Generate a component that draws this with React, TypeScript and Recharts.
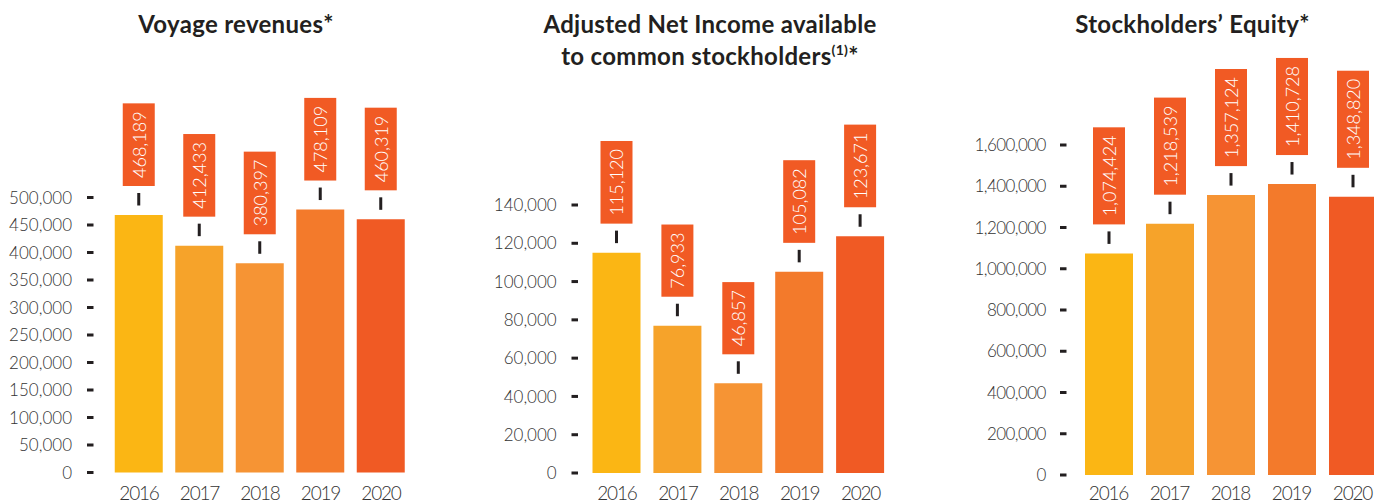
import React from 'react';
import { BarChart, Bar, XAxis, YAxis, Cell, LabelList } from 'recharts';

const years = ['2016', '2017', '2018', '2019', '2020'];
const voyageRevenues = [468189, 412433, 380397, 478109, 460319];
const adjustedNetIncome = [115120, 76933, 46857, 105082, 123671];
const stockholdersEquity = [1074424, 1218539, 1357124, 1410728, 1348820];

const voyageTicks = [0, 50000, 100000, 150000, 200000, 250000, 300000, 350000, 400000, 450000, 500000];
const incomeTicks = [0, 20000, 40000, 60000, 80000, 100000, 120000, 140000];
const equityTicks = [0, 200000, 400000, 600000, 800000, 1000000, 1200000, 1400000, 1600000];

const barColors = ['#FBB614', '#F6A32A', '#F69434', '#F37A2B', '#F05A24'];
const labelBoxColor = '#F15A24';
const inkColor = '#231F20';
const FONT = 'Lato, "Open Sans", sans-serif';

const fmt = (v: number) => String(Math.round(v)).replace(/\B(?=(\d{3})+(?!\d))/g, ',');

type Cfg = {
  left: number;
  width: number;
  margin: { top: number; right: number; bottom: number; left: number };
  yAxisWidth: number;
  xAxisHeight: number;
  labelRight: number;
  dashX: number;
  tickSpacing: number;
};

const makeData = (values: number[]) => years.map((year, i) => ({ year, value: values[i] }));

const BarLabel = (props: any) => {
  const { x, y, width, value } = props;
  const cx = Number(x) + Number(width) / 2;
  const top = Number(y);
  const s = fmt(Number(value));
  const digits = s.replace(/,/g, '').length;
  const commas = s.length - digits;
  const boxH = digits * 10.44 + commas * 4 + 16;
  const boxBottom = top - 29;
  const boxTop = boxBottom - boxH;
  const boxCy = boxTop + boxH / 2;
  return (
    <g>
      <rect x={cx - 1.5} y={top - 22} width={3} height={12.5} fill={inkColor} />
      <rect x={cx - 16} y={boxTop} width={32} height={boxH} fill={labelBoxColor} />
      <text
        x={cx}
        y={boxCy}
        transform={`rotate(-90 ${cx} ${boxCy})`}
        textAnchor="middle"
        dominantBaseline="central"
        fill="#ffffff"
        fontFamily={FONT}
        fontWeight={300}
        fontSize={18}
      >
        {s}
      </text>
    </g>
  );
};

const MiniChart = ({ cfg, values, ticks }: { cfg: Cfg; values: number[]; ticks: number[] }) => {
  const data = makeData(values);
  const yTick = (p: any) => (
    <g>
      <text
        x={cfg.labelRight}
        y={p.y}
        dy="0.36em"
        textAnchor="end"
        fill="#333333"
        fontFamily={FONT}
        fontWeight={300}
        fontSize={17}
        letterSpacing={cfg.tickSpacing}
      >
        {fmt(p.payload.value)}
      </text>
      <rect x={cfg.dashX} y={p.y - 1.5} width={6.5} height={3} fill={inkColor} />
    </g>
  );
  const xTick = (p: any) => (
    <text
      x={p.x}
      y={500}
      textAnchor="middle"
      fill="#333333"
      fontFamily={FONT}
      fontWeight={300}
      fontSize={19}
      letterSpacing={-1.2}
    >
      {p.payload.value}
    </text>
  );
  return (
    <div style={{ position: 'absolute', left: cfg.left, top: 0 }}>
      <BarChart width={cfg.width} height={504} data={data} margin={cfg.margin}>
        <XAxis dataKey="year" axisLine={false} tickLine={false} interval={0} height={cfg.xAxisHeight} tick={xTick} />
        <YAxis
          type="number"
          domain={[0, ticks[ticks.length - 1]]}
          ticks={ticks}
          interval={0}
          axisLine={false}
          tickLine={false}
          width={cfg.yAxisWidth}
          tick={yTick}
        />
        <Bar dataKey="value" barSize={48} isAnimationActive={false}>
          {data.map((d, i) => (
            <Cell key={d.year} fill={barColors[i]} />
          ))}
          <LabelList dataKey="value" content={BarLabel} />
        </Bar>
      </BarChart>
    </div>
  );
};

const voyageCfg: Cfg = {
  left: 0,
  width: 460,
  margin: { top: 197.5, right: 48.75, bottom: 0, left: 0 },
  yAxisWidth: 108.75,
  xAxisHeight: 31.5,
  labelRight: 72,
  dashX: 87,
  tickSpacing: 0,
};

const incomeCfg: Cfg = {
  left: 460,
  width: 460,
  margin: { top: 205, right: 29, bottom: 0, left: 0 },
  yAxisWidth: 126.5,
  xAxisHeight: 31,
  labelRight: 96.7,
  dashX: 111.5,
  tickSpacing: 0,
};

const equityCfg: Cfg = {
  left: 920,
  width: 470,
  margin: { top: 145, right: 7, bottom: 0, left: 0 },
  yAxisWidth: 158,
  xAxisHeight: 29,
  labelRight: 125.7,
  dashX: 140,
  tickSpacing: -0.6,
};

const titleStyle = {
  fontFamily: FONT,
  fontWeight: 700,
  fontSize: 24,
  letterSpacing: 0.3,
  fill: inkColor,
};

export default function App() {
  return (
    <div style={{ position: 'relative', width: 1374, height: 504, overflow: 'hidden', background: '#ffffff' }}>
      <style>{'body{margin:0;}'}</style>
      <MiniChart cfg={voyageCfg} values={voyageRevenues} ticks={voyageTicks} />
      <MiniChart cfg={incomeCfg} values={adjustedNetIncome} ticks={incomeTicks} />
      <MiniChart cfg={equityCfg} values={stockholdersEquity} ticks={equityTicks} />
      <svg width={1374} height={80} style={{ position: 'absolute', left: 0, top: 0, pointerEvents: 'none' }}>
        <text x={236} y={33} textAnchor="middle" style={titleStyle}>
          Voyage revenues*
        </text>
        <text x={710} y={33} textAnchor="middle" style={titleStyle}>
          Adjusted Net Income available
        </text>
        <text x={710} y={65} textAnchor="middle" style={titleStyle}>
          to common stockholders
          <tspan fontSize={14} dy={-10}>(1)</tspan>
          <tspan dy={10}>*</tspan>
        </text>
        <text x={1192.5} y={33} textAnchor="middle" style={titleStyle}>
          Stockholders’ Equity*
        </text>
      </svg>
    </div>
  );
}
